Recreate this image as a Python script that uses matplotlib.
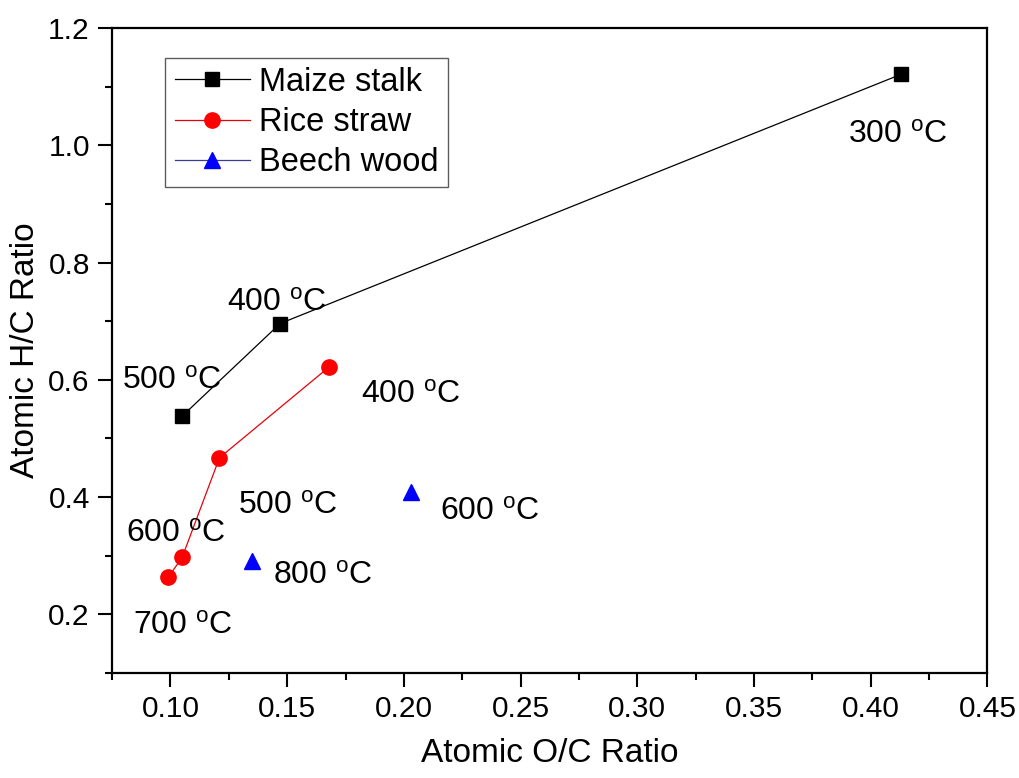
import matplotlib
matplotlib.use("Agg")
import matplotlib.pyplot as plt
from matplotlib.lines import Line2D
from matplotlib.ticker import MultipleLocator, FormatStrFormatter

plt.rcParams["font.family"] = ["Liberation Sans", "DejaVu Sans"]
plt.rcParams["mathtext.default"] = "regular"

# data
maize_oc = [0.413, 0.147, 0.105]
maize_hc = [1.121, 0.696, 0.538]
maize_temp = ["300", "400", "500"]

rice_oc = [0.168, 0.121, 0.105, 0.099]
rice_hc = [0.622, 0.467, 0.297, 0.263]
rice_temp = ["400", "500", "600", "700"]

beech_oc = [0.203, 0.135]
beech_hc = [0.409, 0.291]
beech_temp = ["600", "800"]

series_names = ["Maize stalk", "Rice straw", "Beech wood"]

# label offsets in pixels (left edge / baseline relative to the marker)
maize_off = [(-53, -69), (-53, 13), (-60, 27)]
rice_off = [(32, -36), (19, -56), (-56, 16), (-35, -57)]
beech_off = [(29, -28), (21, -23)]

fig = plt.figure(figsize=(10.19, 7.78), dpi=100)
ax = fig.add_axes([0.110, 0.135, 0.859, 0.829])

ax.plot(maize_oc, maize_hc, color="black", lw=0.9, marker="s", ms=10)
ax.plot(rice_oc, rice_hc, color="#e8000b", lw=0.9, marker="o", ms=11,
        mfc="red", mec="red")
ax.plot(beech_oc, beech_hc, ls="none", marker="^", ms=11, mfc="blue", mec="blue")

def put_labels(xs, ys, temps, offs):
    for x, y, t, o in zip(xs, ys, temps, offs):
        ax.annotate(t + r" $^{o}$C", (x, y), xytext=o, textcoords="offset pixels",
                    ha="left", va="baseline", fontsize=23)

put_labels(maize_oc, maize_hc, maize_temp, maize_off)
put_labels(rice_oc, rice_hc, rice_temp, rice_off)
put_labels(beech_oc, beech_hc, beech_temp, beech_off)

ax.set_xlim(0.075, 0.45)
ax.set_ylim(0.1, 1.2)
ax.xaxis.set_major_locator(MultipleLocator(0.05))
ax.xaxis.set_minor_locator(MultipleLocator(0.025))
ax.yaxis.set_minor_locator(MultipleLocator(0.1))
ax.set_yticks([0.2, 0.4, 0.6, 0.8, 1.0, 1.2])
ax.xaxis.set_major_formatter(FormatStrFormatter("%.2f"))
ax.yaxis.set_major_formatter(FormatStrFormatter("%.1f"))

ax.tick_params(which="major", direction="out", length=10, width=1.5,
               labelsize=21.5, pad=6)
ax.tick_params(which="minor", direction="out", length=5, width=1.5)
ax.tick_params(top=False, right=False)
for s in ax.spines.values():
    s.set_linewidth(1.6)

ax.set_xlabel("Atomic O/C Ratio", fontsize=24, labelpad=11)
ax.set_ylabel("Atomic H/C Ratio", fontsize=24, labelpad=5)

# legend handles keep a line for every series, as in the original
handles = [
    Line2D([], [], color="black", lw=0.9, marker="s", ms=10),
    Line2D([], [], color="#e8000b", lw=0.9, marker="o", ms=11, mfc="red", mec="red"),
    Line2D([], [], color="#3a3a9a", lw=0.9, marker="^", ms=11, mfc="blue", mec="blue"),
]
leg = ax.legend(handles, series_names, loc="upper left",
                bbox_to_anchor=(0.061, 0.954), borderaxespad=0,
                fontsize=23.5, frameon=True, fancybox=False, handlelength=2.3,
                handletextpad=0.3, labelspacing=0.28, borderpad=0.28)
leg.get_frame().set_edgecolor("#333333")
leg.get_frame().set_linewidth(1.0)

fig.savefig("out.png", dpi=100)
